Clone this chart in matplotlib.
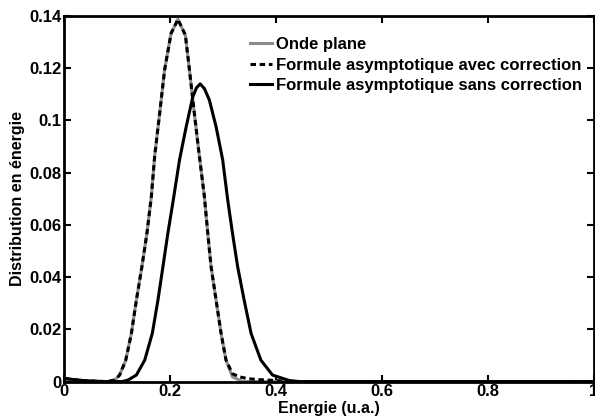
import numpy as np
import matplotlib.pyplot as plt

plt.rcParams['font.family'] = ['Liberation Sans', 'DejaVu Sans']
plt.rcParams['font.weight'] = 'bold'

# Onde plane (gris)
x_onde = [0, 0.02, 0.04, 0.06, 0.08, 0.096, 0.105, 0.1165, 0.1272, 0.1366, 0.147,
          0.1565, 0.1648, 0.171, 0.1805, 0.1898, 0.202, 0.215, 0.229, 0.2368, 0.246,
          0.2556, 0.265, 0.2713, 0.2776, 0.287, 0.2964, 0.3058, 0.318, 0.337, 1.0]
y_onde = [0.0012, 0.0007, 0.0003, 0.0001, 0.0, 0.0006, 0.0025, 0.0082, 0.0185, 0.0312, 0.044,
          0.0568, 0.0708, 0.0861, 0.1027, 0.1193, 0.1333, 0.1387, 0.1327, 0.1193, 0.1027,
          0.0861, 0.0708, 0.0568, 0.044, 0.0312, 0.0185, 0.0082, 0.0018, 0.0, 0.0]

# Formule asymptotique avec correction
x_avec = [0, 0.02, 0.04, 0.06, 0.08, 0.096, 0.105, 0.1165, 0.1272, 0.1366, 0.147,
          0.1565, 0.1648, 0.171, 0.1805, 0.1898, 0.202, 0.215, 0.229, 0.2368, 0.246,
          0.2556, 0.265, 0.2713, 0.2776, 0.287, 0.2964, 0.3058, 0.318, 0.331, 0.345,
          0.362, 0.40, 0.43, 1.0]
y_avec = [0.0012, 0.0007, 0.0003, 0.0001, 0.0, 0.0006, 0.0025, 0.0082, 0.0185, 0.0312, 0.044,
          0.0568, 0.0708, 0.0861, 0.1027, 0.1193, 0.1333, 0.1387, 0.1327, 0.1193, 0.1027,
          0.0861, 0.0708, 0.0568, 0.044, 0.0312, 0.0185, 0.0082, 0.003, 0.0018, 0.0012,
          0.0008, 0.0004, 0.0, 0.0]

# Formule asymptotique sans correction
x_sans = [0, 0.02, 0.04, 0.06, 0.08, 0.11, 0.121, 0.1366, 0.1523, 0.1667, 0.1773,
          0.1867, 0.196, 0.2062, 0.218, 0.2306, 0.243, 0.25, 0.257, 0.265, 0.2744,
          0.287, 0.2995, 0.309, 0.318, 0.3277, 0.340, 0.353, 0.3716, 0.3935, 0.425,
          0.444, 1.0]
y_sans = [0.0012, 0.0007, 0.0003, 0.0001, 0.0, 0.0, 0.0006, 0.0025, 0.0082, 0.0185, 0.0312,
          0.044, 0.0568, 0.0695, 0.0849, 0.0976, 0.109, 0.1125, 0.114, 0.1122, 0.1078,
          0.0976, 0.0849, 0.0695, 0.0568, 0.044, 0.0312, 0.0185, 0.0082, 0.0025, 0.0004,
          0.0, 0.0]

xticks = [0, 0.2, 0.4, 0.6, 0.8, 1]
xtick_labels = ['0', '0.2', '0.4', '0.6', '0.8', '1']
yticks = [0, 0.02, 0.04, 0.06, 0.08, 0.1, 0.12, 0.14]
ytick_labels = ['0', '0.02', '0.04', '0.06', '0.08', '0.1', '0.12', '0.14']

fig = plt.figure(figsize=(5.95, 4.17), dpi=100)
ax = fig.add_axes([0.1076, 0.085, 0.8904, 0.8766])

ax.plot(x_onde, y_onde, color='#8c8c8c', lw=2.2, label='Onde plane')
ax.plot(x_avec, y_avec, color='black', lw=2.2, linestyle=(0, (1.8, 1.2)),
        label='Formule asymptotique avec correction')
ax.plot(x_sans, y_sans, color='black', lw=2.2, label='Formule asymptotique sans correction')

ax.set_xlim(0, 1)
ax.set_ylim(0, 0.14)
ax.set_xticks(xticks)
ax.set_xticklabels(xtick_labels)
ax.set_yticks(yticks)
ax.set_yticklabels(ytick_labels)
ax.tick_params(direction='in', top=True, right=True, length=5, width=1.5,
               labelsize=12, pad=2)
for s in ax.spines.values():
    s.set_linewidth(2)

ax.set_xlabel('Energie (u.a.)', fontsize=11.5, fontweight='bold', labelpad=1)
ax.set_ylabel('Distribution en énergie', fontsize=11.5, fontweight='bold', labelpad=3)

ax.legend(loc='upper left', bbox_to_anchor=(0.351, 0.942), frameon=False,
          handlelength=1.35, handletextpad=0.2, labelspacing=0.32,
          borderaxespad=0, borderpad=0, prop={'weight': 'bold', 'size': 12})

fig.savefig('out.png', dpi=100)
